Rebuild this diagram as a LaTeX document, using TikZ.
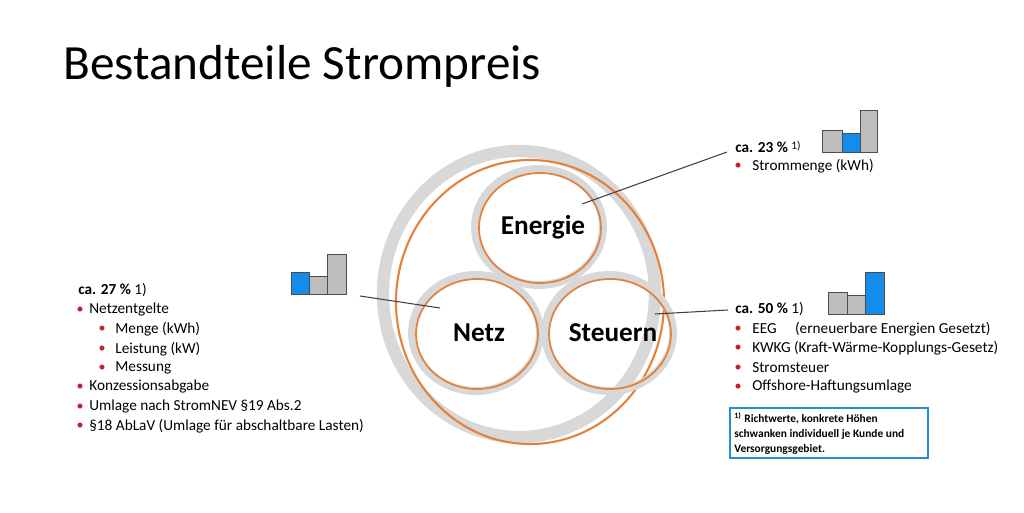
\documentclass[tikz,border=0pt]{standalone}
\usepackage{fontspec}
\setmainfont{Carlito}
\begin{document}
\begin{tikzpicture}[x=0.02cm,y=-0.02cm,
  ring/.style={draw=ringgray,line width=7pt},
  orng/.style={draw=ringorange,line width=1.2pt},
  lab/.style={font=\bfseries\fontsize{15.5pt}{18pt}\selectfont},
  txt/.style={anchor=west,inner sep=0pt,font=\fontsize{8.7pt}{10pt}\selectfont},
  bul/.style={anchor=center,inner sep=0pt,text=bulred,font=\fontsize{8pt}{9pt}\selectfont},
  gbar/.style={fill=bargray,draw=black!70,line width=0.5pt},
  bbar/.style={fill=barblue,draw=black!70,line width=0.5pt},
  conn/.style={draw=black!75,line width=0.6pt}]
\definecolor{ringgray}{RGB}{216,216,216}
\definecolor{ringorange}{RGB}{226,130,60}
\definecolor{bulred}{RGB}{200,30,40}
\definecolor{bargray}{RGB}{190,190,190}
\definecolor{barblue}{RGB}{20,140,235}
\definecolor{boxblue}{RGB}{40,140,210}
\useasboundingbox (0,0) rectangle (1024,513);
\node[anchor=west,inner sep=0pt,font=\fontsize{28pt}{32pt}\selectfont] (title) at (63,66) {Bestandteile Strompreis};
% outer
\draw[ring] (519,294) ellipse [x radius=136, y radius=143];
\draw[orng] (530,302) ellipse [x radius=134, y radius=142];
% inner circles
\foreach \cx/\cy in {539/227, 476/333, 609/333}{
  \draw[ring,line width=4.5pt] (\cx,\cy) ellipse [x radius=64, y radius=58];
  \draw[orng,line width=1pt] (\cx+1,\cy+1) ellipse [x radius=61, y radius=55];
}
\node[lab] (energie) at (543,227) {Energie};
\node[lab] (netz) at (479,333) {Netz};
\node[lab] (steuern) at (613,333) {Steuern};
\coordinate (eA) at (582,204); \coordinate (eB) at (727,152);
\coordinate (nA) at (440,308); \coordinate (nB) at (360,296);
\coordinate (sA) at (655,314); \coordinate (sB) at (728,310);
\draw[conn] (eA) -- (eB);
\draw[conn] (nA) -- (nB);
\draw[conn] (sA) -- (sB);
% bars
\draw[gbar] (822,130) rectangle (842,152);
\draw[bbar] (842,133) rectangle (860,152);
\draw[gbar] (860,110) rectangle (877,152);
\draw[bbar] (291,272) rectangle (309,294);
\draw[gbar] (309,276) rectangle (327,294);
\draw[gbar] (327,254) rectangle (346,294);
\draw[gbar] (828,292) rectangle (847,314);
\draw[gbar] (847,295) rectangle (865,314);
\draw[bbar] (865,272) rectangle (884,314);
% left text
\node[txt] (l0) at (78,290) {\textbf{ca. 27 \%} 1)};
\foreach \y/\t in {310/Netzentgelte,387/Konzessionsabgabe,407/{Umlage nach StromNEV §19 Abs.2},426/{§18 AbLaV (Umlage für abschaltbare Lasten)}}{
  \node[bul] at (80,\y) {•}; \node[txt] at (89,\y) {\t};}
\foreach \y/\t in {329/{Menge (kWh)},349/{Leistung (kW)},368/Messung}{
  \node[bul] at (102,\y) {•}; \node[txt] at (115,\y) {\t};}
% right text
\node[txt] (r0) at (735,147) {\textbf{ca. 23 \%} \raisebox{0.5ex}{\fontsize{6.5pt}{7pt}\selectfont 1)}};
\node[bul] at (738,166) {•}; \node[txt] at (752,166) {Strommenge (kWh)};
\node[txt] (r1) at (735,309) {\textbf{ca. 50 \%} 1)};
\foreach \y/\t in {329/{EEG\hspace{1.2em}(erneuerbare Energien Gesetzt)},348/{KWKG (Kraft-Wärme-Kopplungs-Gesetz)},368/Stromsteuer,387/Offshore-Haftungsumlage}{
  \node[bul] at (738,\y) {•}; \node[txt] at (752,\y) {\t};}
\draw[draw=boxblue,line width=1.2pt] (730,408) rectangle (928,458);
\node[anchor=north west,inner sep=0pt,align=left,font=\bfseries\fontsize{6.5pt}{8.6pt}\selectfont] (note) at (734,412) {\textsuperscript{1)} Richtwerte, konkrete Höhen\\schwanken individuell je Kunde und\\Versorgungsgebiet.};
\end{tikzpicture}
\end{document}
